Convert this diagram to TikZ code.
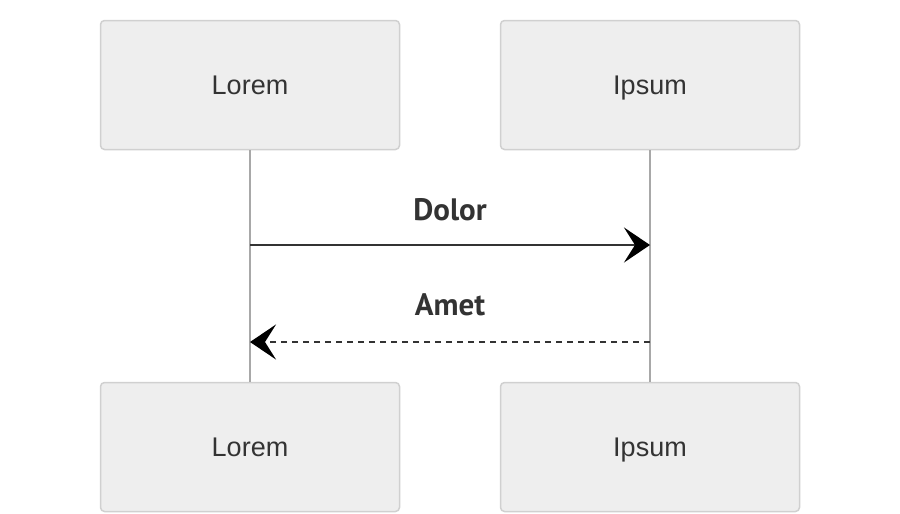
\documentclass[tikz,border=0pt]{standalone}
\usepackage{fontspec}
\setmainfont{Liberation Sans}
\newfontfamily\labelfont{PT Sans}
\usetikzlibrary{arrows.meta}
\definecolor{boxfill}{HTML}{EEEEEE}
\definecolor{boxline}{HTML}{D0D0D0}
\definecolor{txt}{HTML}{333333}
\definecolor{life}{HTML}{A8A8A8}
\tikzset{
  actor/.style={draw=boxline, line width=1.5pt, fill=boxfill, rounded corners=4pt,
    minimum width=299pt, minimum height=129pt, inner sep=0pt, text=txt,
    text height=22pt, text depth=4pt,
    font=\fontsize{27}{31}\selectfont},
  lifeline/.style={draw=life, line width=1.5pt},
  msg/.style={draw=txt, line width=2.6pt, -{Stealth[length=26pt, width=35pt, inset=11pt, fill=black, color=black]}},
  reply/.style={msg, dash pattern=on 6pt off 5pt},
  msglabel/.style={text=txt, font=\labelfont\bfseries\fontsize{31}{36}\selectfont, inner sep=0pt}
}
\begin{document}
\begin{tikzpicture}[x=1pt, y=-1pt]
\useasboundingbox (0,0) rectangle (900,514);
\node[actor] (lt) at (250,85) {Lorem};
\node[actor] (rt) at (650,85) {Ipsum};
\node[actor] (lb) at (250,447) {Lorem};
\node[actor] (rb) at (650,447) {Ipsum};
\draw[lifeline] (lt.south) -- (lb.north);
\draw[lifeline] (rt.south) -- (rb.north);
\coordinate (d1) at (250,245);
\coordinate (d2) at (650,245);
\coordinate (a1) at (650,342);
\coordinate (a2) at (250,342);
\draw[msg] (d1) -- (d2);
\draw[reply] (a1) -- (a2);
\node[msglabel] (dl) at (450,210) {Dolor};
\node[msglabel] (al) at (450,305) {Amet};
\end{tikzpicture}
\end{document}
